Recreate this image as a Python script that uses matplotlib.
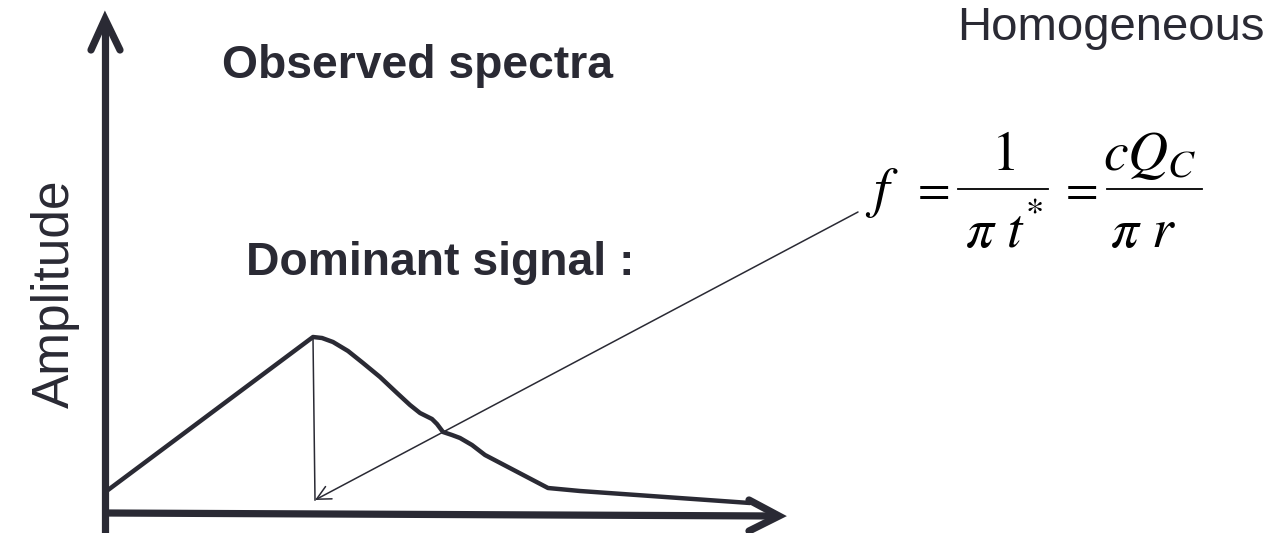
import matplotlib.pyplot as plt

# picture coordinates (pixels, y downwards)
curve_x = [108, 313, 322, 333, 348, 363, 380, 397, 410, 420, 432, 437, 443, 452, 460, 472, 485, 548, 580, 750]
curve_y = [490, 337, 338, 342, 351, 363, 377, 393, 405, 413, 419, 424, 432, 435, 438, 445, 455, 488, 491, 503]

peak = (313, 338)
foot = (315, 500)
pointer_start = (858, 212)

title = 'Observed spectra'
subtitle = 'Dominant signal :'
corner = 'Homogeneous'
ylabel = 'Amplitude'

ink = '#2a2a34'
plt.rcParams['mathtext.fontset'] = 'stix'

fig = plt.figure(figsize=(12.82, 5.33), dpi=100)
ax = fig.add_axes([0, 0, 1, 1])
ax.set_xlim(0, 1282)
ax.set_ylim(533, 0)
ax.axis('off')

# axes with open arrow heads
ax.plot([105, 105], [533, 20], color=ink, lw=5.2, solid_capstyle='butt')
ax.plot([91, 105, 120], [50, 19, 50], color=ink, lw=5.2, solid_capstyle='round', solid_joinstyle='miter')
ax.plot([106, 776], [513, 516], color=ink, lw=5.2, solid_capstyle='butt')
ax.plot([749, 779, 749], [500, 516, 531], color=ink, lw=5.2, solid_capstyle='round', solid_joinstyle='miter')

# spectrum
ax.plot(curve_x, curve_y, color=ink, lw=3.2, solid_joinstyle='round', solid_capstyle='round')

# thin lines
ax.plot([peak[0], foot[0]], [peak[1], foot[1]], color=ink, lw=1.1)
ax.annotate('', xy=foot, xytext=pointer_start,
            arrowprops=dict(arrowstyle='->,head_length=1.0,head_width=0.5', color=ink, lw=1.1,
                            shrinkA=0, shrinkB=0))

ax.text(418, 78, title, fontsize=33.3, fontweight='bold', family='Liberation Sans',
        color=ink, ha='center', va='baseline')
ax.text(440, 275, subtitle, fontsize=33.3, fontweight='bold', family='Liberation Sans',
        color=ink, ha='center', va='baseline')
ax.text(1111, 40, corner, fontsize=34, family='Liberation Sans',
        color=ink, ha='center', va='baseline')
ax.text(55, 294, ylabel, fontsize=37, family='Liberation Sans', rotation=90,
        color=ink, ha='center', va='center')

# formula  f = 1/(pi t*) = cQ_C/(pi r)
fs = 40
ax.text(882, 206, '$f$', fontsize=fs, ha='center', va='baseline')
ax.text(930, 203, '$=$', fontsize=34, ha='center', va='baseline')
ax.plot([958, 1048], [189, 189], color='black', lw=1.3)
ax.text(1003, 170, '$1$', fontsize=fs, ha='center', va='baseline')
ax.text(995, 247, r'$\pi\ t$', fontsize=fs, ha='center', va='baseline')
ax.text(1034, 222, '$*$', fontsize=26, ha='center', va='baseline')
ax.text(1078, 203, '$=$', fontsize=34, ha='center', va='baseline')
ax.plot([1107, 1202], [189, 189], color='black', lw=1.3)
ax.text(1150, 170, '$cQ_C$', fontsize=fs, ha='center', va='baseline')
ax.text(1143, 247, r'$\pi\ r$', fontsize=fs, ha='center', va='baseline')

fig.savefig('out.png', dpi=100)
